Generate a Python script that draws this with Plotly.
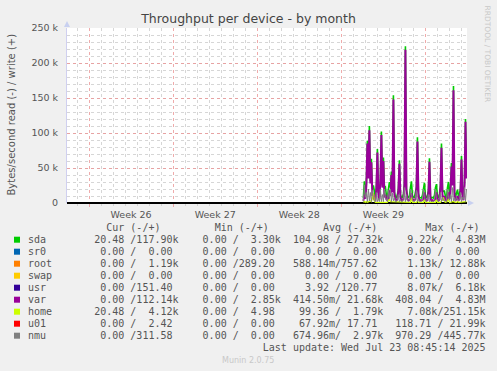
import plotly.graph_objects as go
import pandas as pd

# ---------------- data ----------------
title_text = "Throughput per device - by month"
y_title = "Bytes/second read (-) / write (+)"
y_tickvals = [0, 50000, 100000, 150000, 200000, 250000]
y_ticktext = ["0", "50 k", "100 k", "150 k", "200 k", "250 k"]

devices = ["sda", "sr0", "root", "swap", "usr", "var", "home", "u01", "nmu"]
dev_colors = ["#00CC00", "#0066B3", "#FF8000", "#FFCC00", "#330099",
              "#990099", "#CCFF00", "#FF0000", "#808080"]
cur_vals = [" 20.48 /117.90k", "  0.00 /  0.00 ", "  0.00 /  1.19k", "  0.00 /  0.00 ",
            "  0.00 /151.40 ", "  0.00 /112.14k", " 20.48 /  4.12k", "  0.00 /  2.42 ",
            "  0.00 /311.58 "]
min_vals = ["  0.00 /  3.30k", "  0.00 /  0.00 ", "  0.00 /289.20 ", "  0.00 /  0.00 ",
            "  0.00 /  0.00 ", "  0.00 /  2.85k", "  0.00 /  4.98 ", "  0.00 /  0.00 ",
            "  0.00 /  0.00 "]
avg_vals = ["104.98 / 27.32k", "  0.00 /  0.00 ", "588.14m/757.62 ", "  0.00 /  0.00 ",
            "  3.92 /120.77 ", "414.50m/ 21.68k", " 99.36 /  1.79k", " 67.92m/ 17.71 ",
            "674.96m/  2.97k"]
max_vals = ["  9.22k/  4.83M", "  0.00 /  0.00 ", "  1.13k/ 12.88k", "  0.00 /  0.00 ",
            "  8.07k/  6.18k", "408.04 /  4.83M", "  7.08k/251.15k", "118.71 / 21.99k",
            "970.29 /445.77k"]
last_update = "Last update: Wed Jul 23 08:45:14 2025"
footer = "Munin 2.0.75"
side_text = "RRDTOOL / TOBI OETIKER"

# write throughput, kB/s, 2-hour samples starting at t_start
t_start = "2025-07-15 20:00"
sda_k = [7, 31, 10, 28, 89, 38, 110, 31, 63, 20,
         25, 12, 8, 23, 77, 16, 9, 33, 102, 25,
         65, 22, 23, 11, 8, 20, 30, 22, 45, 18,
         154, 16, 9, 8, 12, 21, 61, 12, 8, 8,
         13, 28, 224, 21, 10, 8, 10, 22, 31, 11,
         8, 8, 15, 23, 94, 14, 8, 8, 7, 11,
         22, 29, 9, 7, 11, 18, 64, 10, 7, 8,
         7, 11, 22, 27, 9, 7, 13, 25, 85, 16,
         17, 17, 9, 7, 22, 30, 12, 21, 57, 28,
         167, 16, 9, 15, 19, 9, 13, 21, 67, 12,
         11, 28, 120, 38]
var_k = [3, 12, 6, 25, 85, 35, 104, 28, 58, 10,
         12, 5, 4, 20, 72, 12, 5, 30, 97, 22,
         60, 8, 12, 5, 4, 8, 18, 10, 40, 15,
         148, 12, 5, 4, 5, 18, 56, 8, 4, 4,
         5, 25, 219, 18, 5, 4, 4, 6, 14, 5,
         4, 4, 5, 20, 88, 10, 4, 4, 3, 4,
         5, 15, 4, 3, 4, 15, 59, 6, 3, 4,
         3, 4, 5, 15, 4, 3, 5, 22, 79, 12,
         4, 10, 4, 3, 5, 15, 6, 18, 52, 25,
         161, 12, 4, 5, 10, 4, 5, 18, 62, 8,
         4, 25, 116, 35]
nmu_k = [2, 26, 8, 15, 2, 20, 3, 15, 2, 18,
         8, 3, 2, 15, 2, 6, 2, 20, 2, 12,
         2, 20, 8, 4, 2, 18, 6, 20, 2, 14,
         3, 8, 2, 2, 5, 12, 2, 5, 2, 2,
         6, 22, 2, 12, 3, 2, 4, 20, 8, 4,
         2, 2, 8, 18, 2, 6, 2, 2, 2, 5,
         20, 8, 3, 2, 5, 12, 2, 4, 2, 2,
         2, 5, 20, 6, 3, 2, 6, 15, 2, 8,
         4, 4, 3, 2, 20, 8, 4, 12, 2, 22,
         3, 8, 3, 8, 6, 3, 6, 15, 2, 8,
         5, 22, 2, 20]
home_k = [1, 2, 1, 2, 1, 2, 2, 3, 2, 6,
          14, 3, 1, 1, 2, 1, 1, 1, 2, 1,
          2, 1, 2, 1, 1, 3, 5, 2, 2, 2,
          2, 1, 1, 1, 1, 1, 2, 1, 1, 1,
          1, 2, 2, 1, 1, 1, 1, 1, 8, 1,
          1, 1, 1, 1, 3, 1, 1, 1, 1, 1,
          1, 5, 1, 1, 1, 1, 2, 1, 1, 1,
          1, 1, 1, 5, 1, 1, 1, 1, 3, 4,
          8, 2, 1, 1, 2, 6, 1, 1, 2, 2,
          2, 1, 1, 1, 2, 1, 1, 1, 2, 1,
          1, 1, 1, 2]

x_range = ["2025-06-21 04:00", "2025-07-24 11:00"]
week_tick0 = "2025-06-23"

# ---------------- figure ----------------
W, H = 497, 371
ML, MR, MT, MB = 67, 30, 28, 168
PW, PH = W - ML - MR, H - MT - MB


def px(xp):
    return (xp - ML) / PW


def py(yp):
    return (H - MB - yp) / PH


times = pd.date_range(t_start, periods=len(var_k), freq="2h")
series = [("sda", sda_k, 1.6), ("var", var_k, 2.0), ("home", home_k, 1.2), ("nmu", nmu_k, 1.0)]

fig = go.Figure()
for name, vals, lw in series:
    col = dev_colors[devices.index(name)]
    fig.add_trace(go.Scatter(x=times, y=[v * 1000 for v in vals], mode="lines",
                             line=dict(color=col, width=lw), name=name,
                             hoverinfo="skip"))

grid_major = "rgba(235,150,150,0.8)"
grid_minor = "rgba(200,200,200,0.75)"
lab_col = "#555555"

fig.update_layout(
    width=W, height=H,
    margin=dict(l=ML, r=MR, t=MT, b=MB, pad=0),
    paper_bgcolor="#F0F0F0", plot_bgcolor="#FFFFFF",
    showlegend=False,
    font=dict(family="DejaVu Sans", color=lab_col, size=10),
    title=dict(text=title_text, x=0.5, xref="container", xanchor="center",
               y=1 - 19 / H, yref="container", yanchor="middle",
               font=dict(family="DejaVu Sans", size=12.5, color="#444444")),
    xaxis=dict(type="date", range=x_range, tick0=week_tick0, dtick=7 * 86400000,
               ticklabelmode="period", tickformat="Week %V",
               tickfont=dict(size=9.5, color=lab_col),
               showgrid=True, gridcolor=grid_major, griddash="dot", gridwidth=1,
               ticks="outside", ticklen=3, tickcolor=grid_major,
               minor=dict(tick0=week_tick0, dtick=86400000, showgrid=True,
                          gridcolor=grid_minor, griddash="dot", gridwidth=1,
                          ticks="outside", ticklen=2, tickcolor=grid_minor),
               showline=False, zeroline=False, fixedrange=True),
    yaxis=dict(range=[0, 250000], tickvals=y_tickvals, ticktext=y_ticktext,
               tickfont=dict(size=9.5, color=lab_col),
               showgrid=True, gridcolor=grid_major, griddash="dot", gridwidth=1,
               ticks="outside", ticklen=6, tickcolor="rgba(0,0,0,0)",
               minor=dict(dtick=10000, showgrid=True, gridcolor=grid_minor,
                          griddash="dot", gridwidth=1),
               showline=True, linecolor="#D0D0F0", linewidth=1,
               zeroline=True, zerolinecolor="#000000", zerolinewidth=2,
               fixedrange=True),
)

# y axis title
fig.add_annotation(text=y_title, xref="paper", yref="paper", x=px(11), y=py(114.5),
                   textangle=-90, showarrow=False, xanchor="center", yanchor="middle",
                   font=dict(size=10, color=lab_col))
# right side credit
fig.add_annotation(text=side_text, xref="paper", yref="paper", x=px(487), y=py(53.5),
                   textangle=90, showarrow=False, xanchor="center", yanchor="middle",
                   font=dict(size=7.5, color="#C8C8C8"))

# axis arrows
fig.add_shape(type="path", xref="paper", yref="paper",
              path=f"M {px(64)} {py(27)} L {px(70)} {py(27)} L {px(67)} {py(21)} Z",
              fillcolor="#C8D0F0", line=dict(width=0))
fig.add_shape(type="path", xref="paper", yref="paper",
              path=f"M {px(468)} {py(200)} L {px(468)} {py(206)} L {px(474)} {py(203)} Z",
              fillcolor="#C8D0F0", line=dict(width=0))

# legend table
NB = "\u00a0"
mono = dict(family="DejaVu Sans Mono", size=10, color=lab_col)


def row_text(s):
    return s.replace(" ", NB)


header = " " * 13 + "Cur (-/+)" + " " * 9 + "Min (-/+)" + " " * 9 + "Avg (-/+)" + " " * 8 + "Max (-/+)"
fig.add_annotation(text=row_text(header), xref="paper", yref="paper", x=px(26), y=py(227.5),
                   xanchor="left", yanchor="middle", showarrow=False, font=mono)

row_y0, row_dy = 239.7, 12.0
for i, dev in enumerate(devices):
    yc = row_y0 + i * row_dy
    line = dev.ljust(10) + cur_vals[i] + "  " + min_vals[i] + "  " + avg_vals[i] + "  " + max_vals[i]
    fig.add_annotation(text=row_text(line), xref="paper", yref="paper", x=px(26), y=py(yc),
                       xanchor="left", yanchor="middle", showarrow=False, font=mono)
    fig.add_shape(type="rect", xref="paper", yref="paper",
                  x0=px(14), x1=px(20), y0=py(yc + 3), y1=py(yc - 3),
                  fillcolor=dev_colors[i], line=dict(width=0))

fig.add_annotation(text=row_text(" " * 39 + last_update), xref="paper", yref="paper",
                   x=px(26), y=py(347.5), xanchor="left", yanchor="middle",
                   showarrow=False, font=mono)
fig.add_annotation(text=footer, xref="paper", yref="paper", x=px(248), y=py(360.5),
                   xanchor="center", yanchor="middle", showarrow=False,
                   font=dict(size=8, color="#C8C8C8"))

fig.write_html("out.html", config={"displayModeBar": False},
               post_script="document.body.style.margin='0px';")
